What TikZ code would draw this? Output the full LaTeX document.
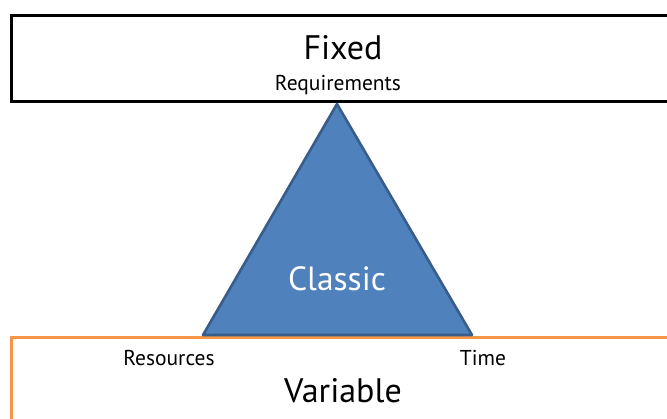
\documentclass[tikz,border=0pt]{standalone}
\usepackage{fontspec}
\setmainfont{PT Sans}
\definecolor{triblue}{HTML}{4F81BD}
\definecolor{triedge}{HTML}{385D8A}
\definecolor{varorange}{HTML}{F79646}
\begin{document}
\begin{tikzpicture}[x=1pt,y=-1pt,
  bigtext/.style={font=\fontsize{34}{36}\selectfont, inner sep=0pt, anchor=base},
  smalltext/.style={font=\fontsize{21.5}{23}\selectfont, inner sep=0pt, anchor=base},
  band/.style={line width=3pt},
]
\useasboundingbox (0,0) rectangle (667,418);
\clip (0,0) rectangle (667,418);
% fixed band
\draw[band, draw=black, fill=white] (11.5,15.5) rectangle (690,101);
% variable band
\draw[line width=2.5pt, draw=varorange, fill=white] (11.5,337.5) rectangle (690,440);
% triangle
\coordinate (apex) at (337,104);
\coordinate (bl) at (203,335);
\coordinate (br) at (472,335);
\draw[line width=2.6pt, draw=triedge, fill=triblue, line join=round] (apex) -- (bl) -- (br) -- cycle;
% texts
\node[bigtext] (fixed) at (343,59) {Fixed};
\node[smalltext] (req) at (338,90) {Requirements};
\node[bigtext, text=white, font=\fontsize{33.5}{35}\selectfont] (classic) at (337,290) {Classic};
\node[smalltext] (res) at (169,365) {Resources};
\node[smalltext] (time) at (483,365) {Time};
\node[bigtext] (var) at (343,402) {Variable};
\end{tikzpicture}
\end{document}
